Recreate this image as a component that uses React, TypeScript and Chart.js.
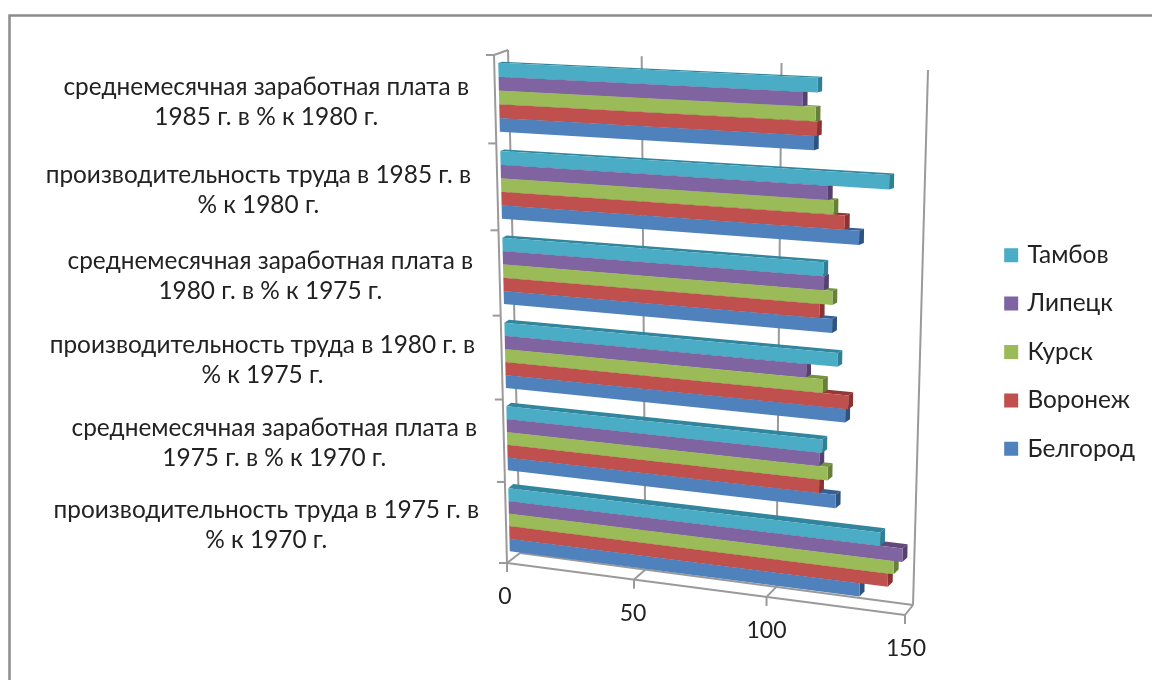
import React, { useEffect, useRef } from "react";
import { Chart, registerables } from "chart.js";

Chart.register(...registerables);

const FONT = "Lato";
const categories: string[][] = [
  ["среднемесячная заработная плата в", "1985 г. в % к 1980 г."],
  ["производительность труда в 1985 г. в", "% к 1980 г."],
  ["среднемесячная заработная плата в", "1980 г. в % к 1975 г."],
  ["производительность труда в 1980 г. в", "% к 1975 г."],
  ["среднемесячная заработная плата в", "1975 г. в % к 1970 г."],
  ["производительность труда в 1975 г. в", "% к 1970 г."],
];
const tambov = [116, 141, 118.7, 124, 119, 140];
const lipetsk = [111, 120, 119, 113, 118, 148];
const kursk = [115.5, 122, 122, 119, 121, 145];
const voronezh = [116, 126, 117.6, 128, 118, 143];
const belgorod = [115, 131, 122, 127, 124, 133];
const seriesNames = ["Тамбов", "Липецк", "Курск", "Воронеж", "Белгород"];
const seriesColors = ["#4BACC6", "#8064A2", "#9BBB59", "#C0504D", "#4F81BD"];
const topColors = ["#31859C", "#604A7B", "#76923C", "#953735", "#376092"];
const sideColors = ["#2F7F95", "#55406F", "#66803A", "#8A3331", "#2F5380"];

type P = [number, number];
// projective map of the unit square onto a quad (TL, TR, BR, BL)
function makeProjection(q: P[]) {
  const [A, B, C, D] = q;
  const dx1 = B[0] - C[0], dy1 = B[1] - C[1];
  const dx2 = D[0] - C[0], dy2 = D[1] - C[1];
  const sx = A[0] - B[0] + C[0] - D[0], sy = A[1] - B[1] + C[1] - D[1];
  const den = dx1 * dy2 - dx2 * dy1;
  const g = (sx * dy2 - dx2 * sy) / den;
  const h = (dx1 * sy - sx * dy1) / den;
  const a = B[0] - A[0] + g * B[0], b = D[0] - A[0] + h * D[0], c = A[0];
  const d = B[1] - A[1] + g * B[1], e = D[1] - A[1] + h * D[1], f = A[1];
  return (u: number, v: number): P => {
    const w = g * u + h * v + 1;
    return [(a * u + b * v + c) / w, (d * u + e * v + f) / w];
  };
}

const barFront = makeProjection([[498, 53], [918, 72], [907, 612], [510, 560]]);
const barBack = makeProjection([[502, 52], [923, 71], [912, 607], [515, 555]]);
const wallFront = makeProjection([[494, 55], [914, 74], [905, 615], [507, 563]]);
const wallBack = makeProjection([[508, 50], [928, 70], [913, 605], [520, 553]]);

function poly(ctx: CanvasRenderingContext2D, pts: P[], fill: string) {
  ctx.beginPath();
  pts.forEach((p, i) => (i ? ctx.lineTo(p[0], p[1]) : ctx.moveTo(p[0], p[1])));
  ctx.closePath();
  ctx.fillStyle = fill;
  ctx.fill();
}
function line(ctx: CanvasRenderingContext2D, a: P, b: P) {
  ctx.beginPath();
  ctx.moveTo(a[0], a[1]);
  ctx.lineTo(b[0], b[1]);
  ctx.stroke();
}

const projectionPlugin = {
  id: "projection",
  beforeDraw(chart: any) {
    const ctx = chart.ctx;
    ctx.save();
    ctx.strokeStyle = "#8c8c8c";
    ctx.lineWidth = 2.5;
    ctx.beginPath();
    ctx.moveTo(9.5, 690);
    ctx.lineTo(9.5, 15.5);
    ctx.lineTo(1160, 15.5);
    ctx.stroke();
    ctx.restore();
  },
  beforeDatasetsDraw(chart: any) {
    const ctx = chart.ctx;
    const { x: xs, y: ys } = chart.scales;
    const area = chart.chartArea;
    const U = (px: number) => (px - area.left) / area.width;
    ctx.save();
    ctx.strokeStyle = "#9a9a9a";
    ctx.lineWidth = 2;
    // value gridlines, floor and ticks
    xs.ticks.forEach((_: any, i: number) => {
      const u = U(xs.getPixelForTick(i));
      line(ctx, wallBack(u, 0), wallBack(u, 1));
      line(ctx, wallBack(u, 1), wallFront(u, 1));
      const f = wallFront(u, 1);
      line(ctx, f, [f[0], f[1] + 9]);
    });
    line(ctx, wallBack(0, 1), wallBack(1, 1));
    line(ctx, wallFront(0, 1), wallFront(1, 1));
    // category axis
    line(ctx, wallFront(0, 0), wallFront(0, 1));
    line(ctx, wallFront(0, 0), wallBack(0, 0));
    const n = ys.ticks.length;
    for (let i = 0; i <= n; i++) {
      const p = wallFront(0, i / n);
      line(ctx, [p[0] - 8, p[1]], p);
    }
    ctx.restore();
  },
  beforeDatasetDraw(chart: any, args: any) {
    const ctx = chart.ctx;
    const area = chart.chartArea;
    const idx = args.index;
    const U = (px: number) => (px - area.left) / area.width;
    const V = (px: number) => (px - area.top) / area.height;
    args.meta.data.forEach((el: any) => {
      const u0 = U(el.base), u1 = U(el.x);
      const v0 = V(el.y - el.height / 2), v1 = V(el.y + el.height / 2);
      poly(ctx, [barBack(u0, v0), barBack(u1, v0), barFront(u1, v0), barFront(u0, v0)], topColors[idx]);
      poly(ctx, [barFront(u1, v0), barBack(u1, v0), barBack(u1, v1), barFront(u1, v1)], sideColors[idx]);
      poly(ctx, [barFront(u0, v0), barFront(u1, v0), barFront(u1, v1), barFront(u0, v1)], seriesColors[idx]);
    });
    return false;
  },
  afterDatasetsDraw(chart: any) {
    const ctx = chart.ctx;
    const { x: xs, y: ys } = chart.scales;
    const area = chart.chartArea;
    ctx.save();
    ctx.fillStyle = "#222";
    ctx.font = `23px ${FONT}`;
    ctx.textAlign = "center";
    ctx.textBaseline = "middle";
    xs.ticks.forEach((t: any, i: number) => {
      const p = wallFront((xs.getPixelForTick(i) - area.left) / area.width, 1);
      ctx.fillText(String(t.value), p[0] - 2 + i, p[1] + 34);
    });
    ctx.font = `24.4px ${FONT}`;
    ys.ticks.forEach((_: any, i: number) => {
      const p = barFront(0, (ys.getPixelForTick(i) - area.top) / area.height);
      const lines = categories[i];
      const w = Math.max(...lines.map((s) => ctx.measureText(s).width));
      lines.forEach((s, k) => {
        ctx.fillText(s, p[0] - 30 - w / 2, p[1] + 5 + (k - 0.5) * 30);
      });
    });
    ctx.restore();
  },
};

export default function App() {
  const ref = useRef<HTMLCanvasElement>(null);
  useEffect(() => {
    const names = [tambov, lipetsk, kursk, voronezh, belgorod];
    const chart = new Chart(ref.current!, {
      type: "bar",
      data: {
        labels: categories,
        datasets: names.map((data, i) => ({
          label: seriesNames[i],
          data,
          backgroundColor: seriesColors[i],
          borderColor: seriesColors[i],
          borderWidth: 6,
          barPercentage: 1,
          categoryPercentage: 0.78,
        })),
      },
      options: {
        indexAxis: "y",
        animation: false,
        responsive: false,
        layout: { padding: { top: 24, right: 7 } },
        scales: {
          x: { min: 0, max: 150, ticks: { stepSize: 50, display: false }, grid: { display: false }, border: { display: false } },
          y: { ticks: { display: false }, grid: { display: false }, border: { display: false } },
        },
        plugins: {
          title: { display: false },
          tooltip: { enabled: false },
          legend: {
            position: "right",
            labels: {
              boxWidth: 8,
              boxHeight: 8,
              padding: 24,
              color: "#222",
              font: { family: FONT, size: 24.4 },
            },
          },
        },
      },
      plugins: [projectionPlugin],
    } as any);
    return () => chart.destroy();
  }, []);
  return (
    <div style={{ position: "fixed", left: 0, top: 0, width: 1152, height: 680, background: "#fff" }}>
      <canvas ref={ref} width={1152} height={680} style={{ display: "block" }} />
    </div>
  );
}
